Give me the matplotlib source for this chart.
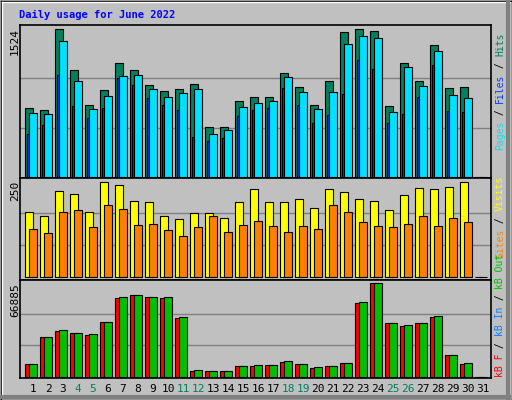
import matplotlib
matplotlib.use("Agg")
import matplotlib.pyplot as plt
from matplotlib.lines import Line2D
import numpy as np

days = list(range(1, 32))
weekend = [4, 5, 11, 12, 18, 19, 25, 26]
hits = [707, 686, 1524, 1100, 738, 893, 1172, 1100, 945, 883, 903, 955, 510, 510, 779, 821,
        821, 1069, 924, 738, 986, 1493, 1524, 1503, 728, 1172, 986, 1359, 914, 924, 0]
pages = [655, 645, 1400, 986, 697, 831, 1038, 1048, 903, 821, 862, 903, 438, 479, 717, 759,
         779, 1028, 872, 697, 872, 1369, 1452, 1431, 665, 1131, 934, 1296, 841, 810, 0]
files = [441, 531, 1052, 728, 607, 710, 1017, 948, 810, 738, 686, 407, 365, 400, 624, 686,
         707, 914, 738, 552, 634, 852, 1203, 1110, 552, 645, 821, 1152, 676, 665, 0]
visits = [171, 160, 226, 217, 171, 250, 242, 198, 196, 158, 152, 166, 166, 155, 196, 231,
          196, 196, 204, 179, 231, 223, 204, 198, 174, 215, 234, 231, 236, 250, 0]
sites = [125, 114, 171, 174, 130, 188, 177, 136, 139, 122, 106, 130, 158, 117, 136, 147,
         133, 117, 133, 125, 188, 171, 144, 133, 130, 139, 160, 133, 155, 144, 0]
kb_f = [8788, 28560, 32954, 31489, 30025, 38812, 56387, 58584, 57119, 56387, 41741, 4394,
        4394, 4394, 7323, 7323, 8055, 10253, 8788, 5859, 7323, 9520, 52726, 66885, 38080,
        35883, 38080, 42473, 15378, 8788, 0]
kb_out = [8788, 28560, 33686, 31489, 30757, 38812, 57119, 58584, 57119, 57119, 42473, 5126,
          4394, 4394, 7323, 8055, 8055, 10985, 8788, 6591, 7323, 9520, 53458, 66885, 38080,
          36615, 38080, 43206, 15378, 9520, 0]

W, H = 512, 400
fig = plt.figure(figsize=(W / 100, H / 100), dpi=100)
fig.patch.set_facecolor("#C0C0C0")
MONO = "DejaVu Sans Mono"

def fl(x0, y0, x1, y1, c, lw=1):
    fig.add_artist(Line2D([x0 / W, x1 / W], [1 - y0 / H, 1 - y1 / H], color=c, lw=lw,
                          transform=fig.transFigure))
fl(0.5, 0.5, 511.5, 0.5, "black"); fl(0.5, 0.5, 0.5, 399.5, "black")
fl(511.5, 0, 511.5, 400, "black"); fl(0, 399.5, 512, 399.5, "black")
fl(1.5, 1.5, 509.5, 1.5, "white"); fl(1.5, 1.5, 1.5, 397.5, "white")
fl(508, 2, 508, 397.5, "#808080", 3); fl(2, 396.5, 509, 396.5, "#808080", 3)

fig.text(19 / W, 1 - 15 / H, "Daily usage for June 2022", color="#0000FF", fontsize=7.5,
         family=MONO, fontweight="bold", va="center", ha="left")

X0, X1 = 20, 491
def dx(px):
    return (px - 18) / 15.0

def make_ax(top, bot, vmax, ptop, pbot):
    ax = fig.add_axes([X0 / W, 1 - bot / H, (X1 - X0) / W, (bot - top) / H])
    ax.set_facecolor("#C0C0C0")
    ppu = ((bot - pbot) - (top + ptop)) / vmax
    ax.set_ylim(-pbot / ppu, vmax + ptop / ppu)
    ax.set_xlim(dx(X0), dx(X1))
    for s in ax.spines.values():
        s.set_color("black"); s.set_linewidth(1.2)
    ax.set_xticks([]); ax.set_yticks([])
    for g in (vmax / 3, 2 * vmax / 3):
        ax.axhline(g, color="#808080", lw=1, zorder=0)
    fig.text(15 / W, 1 - (top + 3) / H, str(vmax), rotation=90, fontsize=8, family=MONO,
             ha="center", va="top")
    return ax

def bars(ax, vals, off, w, color, z):
    x = np.array(days) + off + w / 2
    ax.bar(x, vals, width=w, color=color, edgecolor="black", linewidth=0.8, zorder=z)

def right_label(bottom, segs):
    r = fig.canvas.get_renderer()
    y = 1 - bottom / H
    for txt, c in segs:
        t = fig.text(500 / W, y, txt, rotation=90, color=c, fontsize=7, family=MONO,
                     ha="center", va="bottom")
        bb = t.get_window_extent(r)
        y = bb.y1 / H

ax1 = make_ax(25, 178, 1524, 4.3, 1.3)
bars(ax1, hits, -0.53, 0.53, "#00805C", 2)
bars(ax1, files, -0.4, 0.13, "#0040FF", 3)
bars(ax1, pages, -0.27, 0.53, "#00E0FF", 4)

ax2 = make_ax(178, 280, 250, 3.5, 3.5)
bars(ax2, visits, -0.53, 0.53, "#FFFF00", 2)
bars(ax2, sites, -0.27, 0.53, "#FF8000", 3)

ax3 = make_ax(280, 378, 66885, 3.0, 1.3)
bars(ax3, kb_f, -0.53, 0.53, "#FF0000", 2)
bars(ax3, kb_out, -0.27, 0.53, "#00C000", 3)

for d in days:
    fig.text((18 + 15 * d) / W, 1 - 389 / H, str(d), fontsize=8, family=MONO, ha="center",
             va="center", color="#00805C" if d in weekend else "black")

right_label(150, [("Pages", "#00E0FF"), (" / ", "black"), ("Files", "#0040FF"),
                  (" / ", "black"), ("Hits", "#00805C")])
right_label(258, [("Sites", "#FF8000"), (" / ", "black"), ("Visits", "#FFFF00")])
right_label(377, [("kB F", "#FF0000"), (" / ", "black"), ("kB In", "#0080FF"),
                  (" / ", "black"), ("kB Out", "#00C000")])

fig.savefig("out.png", dpi=100, facecolor=fig.get_facecolor())
